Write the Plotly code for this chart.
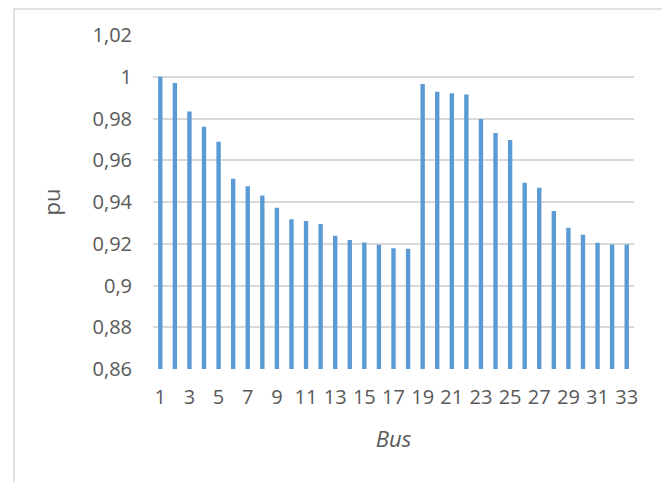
import plotly.graph_objects as go

buses = list(range(1, 34))
voltages = [1.000, 0.9970, 0.9833, 0.9760, 0.9689, 0.9511, 0.9476, 0.9431, 0.9372,
            0.9317, 0.9309, 0.9295, 0.9238, 0.9218, 0.9206, 0.9195, 0.9178, 0.9176,
            0.9965, 0.9928, 0.9921, 0.9915, 0.9798, 0.9731, 0.9697, 0.9492, 0.9468,
            0.9357, 0.9277, 0.9243, 0.9205, 0.9197, 0.9197]
y_ticks = [0.86, 0.88, 0.90, 0.92, 0.94, 0.96, 0.98, 1.00, 1.02]
y_tick_labels = ["0,86", "0,88", "0,9", "0,92", "0,94", "0,96", "0,98", "1", "1,02"]
x_ticks = list(range(1, 34, 2))

font_family = "Open Sans, Liberation Sans, sans-serif"
txt = "#595959"

fig = go.Figure(go.Bar(x=buses, y=voltages, marker=dict(color="#5b9bd5", line=dict(width=0)),
                       width=0.3))

fig.update_layout(
    width=662, height=474,
    margin=dict(l=145, r=36, t=27, b=113),
    paper_bgcolor="white", plot_bgcolor="white",
    showlegend=False,
    font=dict(family=font_family, color=txt, size=20),
    xaxis=dict(range=[0.5, 33.5], tickvals=x_ticks, ticktext=[str(v) for v in x_ticks],
               showgrid=False, zeroline=False, showline=False, ticks="",
               ticklabelstandoff=14, tickfont=dict(size=20, color=txt),
               title=dict(text="<i>Bus</i>", font=dict(size=22, color=txt), standoff=22)),
    yaxis=dict(range=[0.86, 1.02], tickvals=y_ticks, ticktext=y_tick_labels,
               showgrid=True, gridcolor="#d9d9d9", gridwidth=1.5, zeroline=False,
               showline=False, ticks="", ticklabelstandoff=20,
               tickfont=dict(size=20, color=txt),
               title=dict(text="pu", font=dict(size=22, color=txt), standoff=25)),
    shapes=[dict(type="rect", xref="paper", yref="paper",
                 x0=-0.289, x1=1.064, y0=-0.40, y1=1.078,
                 line=dict(color="#d9d9d9", width=1.5), fillcolor="rgba(0,0,0,0)", layer="below")],
)

fig.write_html("out.html")
